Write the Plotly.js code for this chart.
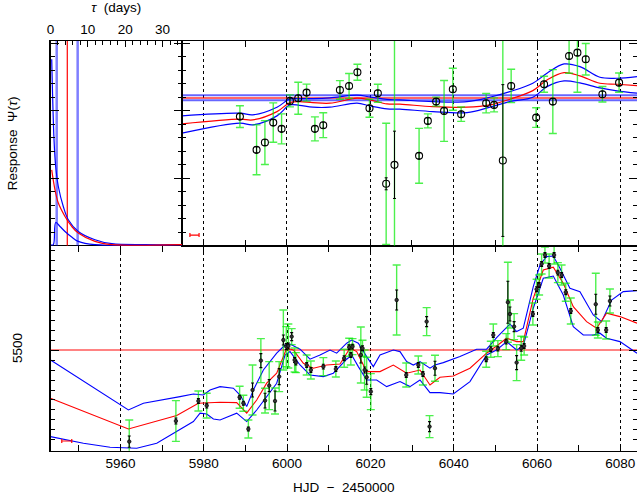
<!DOCTYPE html>
<html><head><meta charset="utf-8">
<script src="https://cdn.plot.ly/plotly-3.0.1.min.js"></script>
<style>html,body{margin:0;padding:0;background:#fff}#c{width:637px;height:495px}</style>
</head><body><div id="c"></div>
<script>
// ---------- Upper panel: line light curve (arbitrary flux units) ----------
const upT = [5988.7,5992.7,5994.7,5996.7,5998.7,6000.7,6002.7,6004.7,6006.7,6008.7,6012.7,6014.9,6016.9,6019.8,6021.8,6023.8,6025.8,6031.7,6033.8,6035.8,6037.7,6039.8,6041.8,6047.8,6049.7,6051.8,6053.8,6059.8,6061.7,6063.8,6067.7,6069.7,6071.7,6075.7,6079.7];
const upF = [12.83,9.5,10.23,12.23,11.6,14.4,14.67,15.23,11.6,11.97,15.5,15.9,17.27,13.67,15.17,6.1,8.0,8.9,12.4,14.33,13.4,15.57,13.07,14.17,14.0,8.43,15.9,12.73,16.07,14.33,18.9,19.23,18.57,15.07,16.23];
const upErrTot = [1.09,2.5,2.2,1.97,1.5,0.6,1.6,0.85,1.2,1.25,0.93,1.25,0.8,0.9,0.9,6.07,14,2.75,0.7,0.45,3.05,2.1,0.72,0.97,0.7,13,1.67,0.98,0.8,3.2,1.73,3.96,1.58,0.78,0.97];
const upErrMeas = [0.3,0.3,0.3,0.3,0.3,0.3,0.3,0.3,0.3,0.3,0.3,0.3,0.3,0.3,0.3,0.6,3.37,0.3,0.3,0.3,0.3,0.3,0.3,0.3,0.3,7.6,0.3,0.3,0.3,0.3,0.3,0.3,0.3,0.3,0.3];
const upMT = [5974.8,5988.7,5991.8,5997.6,6000.7,6003.0,6006.2,6010.3,6016.8,6019.9,6024.0,6027.1,6035.0,6043.2,6048.7,6053.5,6059.0,6062.4,6066.5,6070.3,6075.1,6079.2,6084.0];
const upMod = [12.1,12.57,12.5,13.33,14.23,14.33,14.23,14.17,14.67,14.5,14.1,14.07,13.83,13.77,14.0,14.57,15.43,16.5,17.23,16.9,16.17,16.07,15.93];
const upHi = [12.9,13.17,13.0,13.77,14.6,14.63,14.63,14.7,14.97,14.8,14.55,14.5,14.33,14.33,14.77,15.33,16.17,17.17,18.1,17.83,16.77,16.67,16.83];
const upLo = [11.17,12.17,12.0,12.9,14.0,13.95,13.77,13.77,14.17,13.9,13.6,13.57,13.33,13.23,13.77,14.33,14.77,15.83,16.4,16.2,15.7,15.4,15.17];
const upMeanT = [5974.8,6084.0];
const upMean = 14.7, upMeanHi = 14.97, upMeanLo = 14.47;
const upBarT = 5977.8, upBarF = 0.97, upBarErr = 1.1;

// ---------- Lower panel: continuum light curve ----------
const loT = [5962.1,5973.3,5978.7,5980.7,5988.6,5989.5,5990.7,5991.7,5993.7,5994.7,5995.7,5997.1,5998.1,5999.1,5999.8,6000.3,6001.1,6001.8,6002.1,6004.7,6005.7,6008.7,6011.7,6013.7,6014.9,6015.3,6015.7,6017.7,6018.1,6018.6,6019.1,6020.1,6026.3,6028.6,6031.5,6032.6,6033.5,6034.2,6035.5,6047.8,6048.9,6049.5,6050.6,6052.6,6053.0,6053.5,6054.5,6055.1,6056.2,6056.9,6059.0,6059.9,6060.5,6061.1,6061.9,6062.9,6064.1,6065.0,6065.9,6066.9,6068.1,6074.1,6074.6,6076.6,6077.5];
const loF = [5042,5145,5245,5222,5264,5234,5105,5300,5447,5247,5322,5245,5367,5550,5517,5520,5567,5450,5437,5425,5400,5417,5405,5459,5514,5475,5517,5475,5509,5400,5364,5292,5750,5375,5425,5380,5642,5117,5409,5454,5504,5575,5507,5542,5739,5680,5617,5437,5509,5520,5680,5804,5825,5930,5975,5920,5975,5887,5875,5789,5695,5729,5600,5600,5745];
const loErrTot = [108,102,50,62,55,40,45,125,110,62,120,65,75,150,100,110,40,60,50,50,45,45,40,45,45,50,40,140,40,100,100,90,175,60,45,55,70,55,65,40,40,55,40,40,200,70,65,90,60,45,55,50,50,50,40,60,45,50,50,45,65,155,40,45,60];
const loErrMeas = [28,15,12,12,10,10,10,35,35,37,30,50,40,25,15,15,20,12,12,12,12,12,12,12,12,12,12,40,12,15,35,15,50,12,12,12,25,25,35,12,12,12,12,12,105,35,25,35,15,12,12,12,12,12,12,12,12,12,12,12,12,50,12,12,25];
const loModT = [5943.2,5961.9,5973.5,5978.7,5983.9,5987.9,5990.3,5992.7,5995.1,5997.5,5999.9,6001.5,6003.9,6006.3,6009.5,6012.7,6015.1,6016.7,6019.1,6022.3,6025.5,6028.7,6031.9,6034.3,6036.7,6039.9,6043.9,6047.9,6050.3,6052.7,6055.1,6056.7,6059.1,6061.5,6063.9,6066.3,6068.7,6071.9,6074.3,6076.7,6079.9,6084];
const loMod = [5259,5105,5172,5234,5239,5237,5184,5250,5334,5384,5509,5500,5434,5409,5425,5430,5509,5492,5392,5392,5425,5384,5400,5325,5364,5370,5409,5484,5520,5559,5542,5542,5759,5900,5914,5834,5717,5642,5609,5684,5667,5634];
const loHiT = [5943.2,5961.9,5965.5,5970.3,5974.3,5977.5,5979.9,5981.5,5983.9,5987.1,5988.7,5990.3,5991.9,5994.3,5997.5,5999.5,6000.7,6003.1,6005.5,6007.9,6010.3,6011.9,6014.3,6015.5,6017.1,6019.1,6020.7,6022.3,6025.5,6027.1,6028.7,6030.3,6031.9,6034.3,6035.5,6037.5,6041.5,6045.5,6047.9,6050.3,6053.5,6055.1,6056.7,6059.1,6060.7,6062.3,6063.9,6065.5,6067.9,6070.3,6073.5,6075.5,6077.9,6080.7,6084];
const loHi = [5450,5200,5234,5254,5267,5280,5275,5300,5317,5309,5275,5217,5300,5400,5484,5525,5530,5504,5454,5475,5500,5484,5534,5550,5534,5467,5417,5475,5500,5492,5442,5425,5442,5409,5425,5437,5467,5504,5504,5562,5630,5592,5609,5817,5925,5967,5970,5909,5809,5792,5675,5642,5750,5792,5797];
const loLoT = [5943.2,5951.1,5957.5,5963.9,5968.7,5973.5,5977.5,5979.1,5980.7,5982.3,5983.9,5987.9,5990.3,5992.7,5995.1,5997.5,5999.5,6000.7,6003.1,6005.5,6008.7,6011.1,6014.3,6015.5,6017.1,6019.1,6021.5,6023.9,6027.1,6029.5,6031.9,6034.3,6036.7,6039.9,6043.9,6047.9,6050.3,6052.7,6055.1,6056.7,6059.1,6061.5,6063.9,6066.3,6068.7,6071.1,6073.5,6075.1,6076.7,6079.9,6084];
const loLo = [5067,5034,5014,5009,5034,5092,5142,5184,5180,5155,5150,5184,5142,5200,5267,5334,5475,5492,5425,5375,5367,5384,5454,5475,5417,5350,5350,5317,5342,5317,5350,5287,5287,5280,5342,5475,5500,5542,5500,5520,5709,5859,5870,5775,5617,5575,5575,5584,5559,5542,5484];
const loMeanT = [5943.2,6084.0];
const loMean = 5500;
const loBarT = 5947.1, loBarF = 5045, loBarErr = 1.2;

// ---------- Upper-left panel: transfer function ----------
const tfHiTau = [0.32,0.94,1.39,2.09,3.42,4.76,7.43,11.9,16.4,25.3,35.2];
const tfHi = [18.57,10.5,7.83,5.83,3.83,2.5,1.33,0.5,0.1,0,0];
const tfModTau = [0.32,1.2,2.09,3.88,5.67,7.43,11.9,16.4,35.2];
const tfMod = [7.5,5.5,4.17,2.83,1.83,1.17,0.33,0,0];
const tfLoTau = [0.0,0.75,1.39,2.54,3.88,5.67,7.43,11.9,35.2];
const tfLo = [0,0,2.23,1.83,1.33,0.77,0.33,0,0];
const tfLag = 4.49, tfLagLo = 1.66, tfLagHi = 7.27;

const upRange = [-0.1, 20.4];
const loRange = [4996.5, 6021.5];

const BLUE = '#0000ff', RED = '#ff0000';
const GREEN = 'rgba(0,235,0,0.7)';
const traces = [];
function line(x, y, color, w, xa, ya, shape) {
  traces.push({type:'scatter', mode:'lines', x:x, y:y, xaxis:xa, yaxis:ya,
    line:{color:color, width:w, shape:shape||'linear'}, hoverinfo:'skip'});
}
// lower panel
line(loMeanT, [loMean, loMean], 'rgba(255,0,0,0.65)', 1.6, 'x', 'y');
line(loHiT, loHi, BLUE, 1.1, 'x', 'y');
line(loLoT, loLo, BLUE, 1.1, 'x', 'y');
line(loModT, loMod, RED, 1.1, 'x', 'y');
traces.push({type:'scatter', mode:'markers', x:loT, y:loF, xaxis:'x', yaxis:'y',
  marker:{size:1, color:'rgba(0,0,0,0)'},
  error_y:{type:'data', array:loErrTot, color:GREEN, thickness:1.4, width:4}});
traces.push({type:'scatter', mode:'markers', x:loT, y:loF, xaxis:'x', yaxis:'y',
  marker:{size:3.5, color:'#333', line:{color:'#000', width:0.7}},
  error_y:{type:'data', array:loErrMeas, color:'#000', thickness:1.1, width:1.5}});
traces.push({type:'scatter', mode:'markers', x:[loBarT], y:[loBarF], xaxis:'x', yaxis:'y',
  marker:{size:1, color:'rgba(0,0,0,0)'},
  error_x:{type:'data', array:[loBarErr], color:RED, thickness:1.2, width:2}});

// upper right panel
line(upMeanT, [upMeanHi, upMeanHi], 'rgba(0,0,255,0.6)', 2, 'x2', 'y2');
line(upMeanT, [upMeanLo, upMeanLo], 'rgba(0,0,255,0.6)', 2, 'x2', 'y2');
line(upMeanT, [upMean, upMean], 'rgba(255,0,0,0.6)', 2, 'x2', 'y2');
line(upMT, upHi, BLUE, 1.2, 'x2', 'y2', 'spline');
line(upMT, upLo, BLUE, 1.2, 'x2', 'y2', 'spline');
line(upMT, upMod, RED, 1.2, 'x2', 'y2', 'spline');
traces.push({type:'scatter', mode:'markers', x:upT, y:upF, xaxis:'x2', yaxis:'y2',
  marker:{size:1, color:'rgba(0,0,0,0)'},
  error_y:{type:'data', array:upErrTot, color:GREEN, thickness:1.4, width:4}});
traces.push({type:'scatter', mode:'markers', x:upT, y:upF, xaxis:'x2', yaxis:'y2',
  marker:{size:7, symbol:'circle-open', color:'#000', line:{width:1.1}},
  error_y:{type:'data', array:upErrMeas, color:'#000', thickness:1, width:1.5}});
traces.push({type:'scatter', mode:'markers', x:[upBarT], y:[upBarF], xaxis:'x2', yaxis:'y2',
  marker:{size:1, color:'rgba(0,0,0,0)'},
  error_x:{type:'data', array:[upBarErr], color:RED, thickness:1.2, width:2}});

// transfer function panel
line([tfLagLo, tfLagLo], upRange, 'rgba(0,0,255,0.5)', 2.5, 'x3', 'y3');
line([tfLagHi, tfLagHi], upRange, 'rgba(0,0,255,0.5)', 2.5, 'x3', 'y3');
line([tfLag, tfLag], upRange, RED, 1.2, 'x3', 'y3');
line(tfHiTau, tfHi, BLUE, 1.2, 'x3', 'y3', 'spline');
line(tfLoTau, tfLo, BLUE, 1.2, 'x3', 'y3', 'spline');
line(tfModTau, tfMod, RED, 1.2, 'x3', 'y3', 'spline');

// dummy traces for right-side tick axes
traces.push({type:'scatter', mode:'markers', x:[], y:[], xaxis:'x2', yaxis:'y4', hoverinfo:'skip'});
traces.push({type:'scatter', mode:'markers', x:[], y:[], xaxis:'x', yaxis:'y5', hoverinfo:'skip'});

const FONT = 'Liberation Sans, Arial, Helvetica, sans-serif';
const ax = {showline:true, linecolor:'#000', linewidth:1.2, zeroline:false, automargin:false,
  ticks:'inside', tickcolor:'#000', tickwidth:1};
const xLow = [0.0793, 1], xUpR = [0.2857, 1], xUpL = [0.0793, 0.2857];
const yLow = [0.0895, 0.5036], yUp = [0.5036, 0.9172];

const layout = {
  width:637, height:495, margin:{l:0, r:0, t:0, b:0}, showlegend:false,
  paper_bgcolor:'#fff', plot_bgcolor:'rgba(0,0,0,0)',
  font:{family:FONT, size:13.5, color:'#000'},
  xaxis: Object.assign({}, ax, {domain:xLow, range:[5943.2, 6084], anchor:'y', mirror:'ticks',
    tickmode:'linear', tick0:5960, dtick:20, ticklen:6,
    minor:{ticks:'inside', tick0:5960, dtick:10, ticklen:6, tickcolor:'#000', showgrid:false},
    showgrid:true, gridcolor:'#000', griddash:'dot', gridwidth:1,
    tickfont:{size:13.5}, title:{text:'HJD  −  2450000', font:{size:13.5}, standoff:14}}),
  yaxis: Object.assign({}, ax, {domain:yLow, range:loRange, anchor:'x',
    tickmode:'array', tickvals:[5500], ticktext:['5500'], tickangle:-90, ticklen:8,
    ticklabelstandoff:22,
    minor:{tickmode:'linear', tick0:5500, dtick:50, ticks:'inside', ticklen:4, tickcolor:'#000'},
    showgrid:false}),
  yaxis5: {overlaying:'y', side:'right', anchor:'x', range:loRange, showline:false, zeroline:false,
    showgrid:false, showticklabels:false, ticks:'inside', tickcolor:'#000', ticklen:8,
    tickmode:'array', tickvals:[5500],
    minor:{tickmode:'linear', tick0:5500, dtick:50, ticks:'inside', ticklen:4, tickcolor:'#000'}},
  xaxis2: Object.assign({}, ax, {domain:xUpR, range:[5974.8, 6084], anchor:'y2', mirror:'ticks',
    tickmode:'linear', tick0:5960, dtick:20, ticklen:6, showticklabels:false,
    minor:{ticks:'inside', tick0:5960, dtick:10, ticklen:6, tickcolor:'#000', showgrid:false},
    showgrid:true, gridcolor:'#000', griddash:'dot', gridwidth:1}),
  yaxis2: Object.assign({}, ax, {domain:yUp, range:upRange, anchor:'x2',
    tickmode:'linear', tick0:-0.1, dtick:6.75, ticklen:8, showticklabels:false,
    minor:{ticks:'inside', tick0:-0.1, dtick:1.35, ticklen:4, tickcolor:'#000'}, showgrid:false}),
  yaxis4: {overlaying:'y2', side:'right', anchor:'x2', range:upRange, showline:false, zeroline:false,
    showgrid:false, showticklabels:false, ticks:'inside', tickcolor:'#000', ticklen:8,
    tickmode:'linear', tick0:-0.1, dtick:6.75,
    minor:{ticks:'inside', tick0:-0.1, dtick:1.35, ticklen:4, tickcolor:'#000'}},
  xaxis3: Object.assign({}, ax, {domain:xUpL, range:[0, 35.2], anchor:'y3', side:'top',
    tickmode:'array', tickvals:[0,10,20,30], ticklen:6,
    minor:{tickmode:'linear', tick0:0, dtick:2, ticks:'inside', ticklen:4, tickcolor:'#000'},
    showgrid:false, tickfont:{size:13.5},
    title:{text:'<i>τ</i>  (days)', font:{size:13.5}, standoff:6}}),
  yaxis3: Object.assign({}, ax, {domain:yUp, range:upRange, anchor:'x3', mirror:'ticks',
    tickmode:'linear', tick0:-0.1, dtick:6.75, ticklen:8, showticklabels:false,
    minor:{ticks:'inside', tick0:-0.1, dtick:1.35, ticklen:4, tickcolor:'#000'}, showgrid:false,
    title:{text:'Response  Ψ(<i>τ</i>)', font:{size:13.5}, standoff:28}})
};

Plotly.newPlot('c', traces, layout, {staticPlot:true, displayModeBar:false});
</script></body></html>
